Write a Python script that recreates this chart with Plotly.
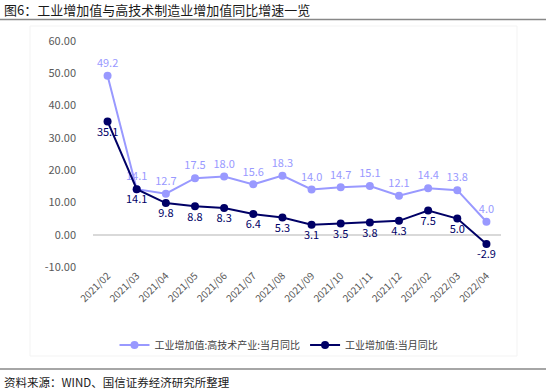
import plotly.graph_objects as go

months = ["2021/02", "2021/03", "2021/04", "2021/05", "2021/06", "2021/07", "2021/08",
          "2021/09", "2021/10", "2021/11", "2021/12", "2022/02", "2022/03", "2022/04"]
hightech = [49.2, 14.1, 12.7, 17.5, 18.0, 15.6, 18.3, 14.0, 14.7, 15.1, 12.1, 14.4, 13.8, 4.0]
industry = [35.1, 14.1, 9.8, 8.8, 8.3, 6.4, 5.3, 3.1, 3.5, 3.8, 4.3, 7.5, 5.0, -2.9]
y_ticks = [60, 50, 40, 30, 20, 10, 0, -10]

W, H = 550, 392
L, R, T, B = 93, 49, 41, 125
PW, PH = W - L - R, H - T - B

def px(x):
    return (x - L) / PW

def py(y):
    return (H - B - y) / PH

FONT = "Noto Sans CJK SC"
LIGHT = "#9999FF"
DARK = "#000066"

fig = go.Figure()
fig.add_trace(go.Scatter(
    x=list(range(len(months))), y=hightech, mode="lines+markers+text",
    name="工业增加值:高技术产业:当月同比",
    line=dict(color=LIGHT, width=2), marker=dict(color=LIGHT, size=8),
    text=[f"{v:.1f}" for v in hightech], textposition="top center",
    textfont=dict(color=LIGHT, size=11, family=FONT), cliponaxis=False,
))
fig.add_trace(go.Scatter(
    x=list(range(len(months))), y=industry, mode="lines+markers+text",
    name="工业增加值:当月同比",
    line=dict(color=DARK, width=2), marker=dict(color=DARK, size=8),
    text=[f"{v:.1f}" for v in industry], textposition="bottom center",
    textfont=dict(color=DARK, size=11, family=FONT), cliponaxis=False,
))

fig.update_layout(
    width=W, height=H,
    margin=dict(l=L, r=R, t=T, b=B, pad=0),
    paper_bgcolor="white", plot_bgcolor="white",
    font=dict(family=FONT, color="#595959", size=11),
    showlegend=True,
    legend=dict(orientation="h", x=px(279), y=py(345), xanchor="center", yanchor="middle",
                font=dict(size=10, color="#404040"), itemwidth=30, tracegroupgap=0,
                bgcolor="rgba(0,0,0,0)"),
    xaxis=dict(tickmode="array", tickvals=list(range(len(months))), ticktext=months,
               range=[-0.5, len(months) - 0.5], tickangle=-45, showgrid=False,
               zeroline=False, showline=False, ticks="", tickfont=dict(size=10, color="#595959")),
    yaxis=dict(range=[-10, 60], tickvals=y_ticks, ticktext=[f"{v:.2f}" for v in y_ticks],
               showgrid=False, zeroline=True, zerolinecolor="#D9D9D9", zerolinewidth=1.5,
               showline=False, ticks="", ticklabelstandoff=16,
               tickfont=dict(size=11, color="#595959")),
    shapes=[
        dict(type="rect", xref="paper", yref="paper", x0=px(30), x1=px(517), y0=py(356), y1=py(26),
             line=dict(color="#F3F3F3", width=1), fillcolor="rgba(0,0,0,0)", layer="below"),
        dict(type="line", xref="paper", yref="paper", x0=px(0), x1=px(546), y0=py(19.5), y1=py(19.5),
             line=dict(color="#888888", width=1.5)),
        dict(type="line", xref="paper", yref="paper", x0=px(0), x1=px(546), y0=py(369), y1=py(369),
             line=dict(color="#888888", width=1.5)),
    ],
    annotations=[
        dict(text="图6：工业增加值与高技术制造业增加值同比增速一览", xref="paper", yref="paper",
             x=px(2), y=py(10), xanchor="left", yanchor="middle", showarrow=False,
             font=dict(size=13, color="#1a1a1a", family=FONT)),
        dict(text="资料来源：WIND、国信证券经济研究所整理", xref="paper", yref="paper",
             x=px(2), y=py(382), xanchor="left", yanchor="middle", showarrow=False,
             font=dict(size=11.5, color="#1a1a1a", family=FONT)),
    ],
)

fig.write_html("out.html", config={"displayModeBar": False},
               post_script="document.body.style.margin='0';document.body.style.overflow='hidden';")
